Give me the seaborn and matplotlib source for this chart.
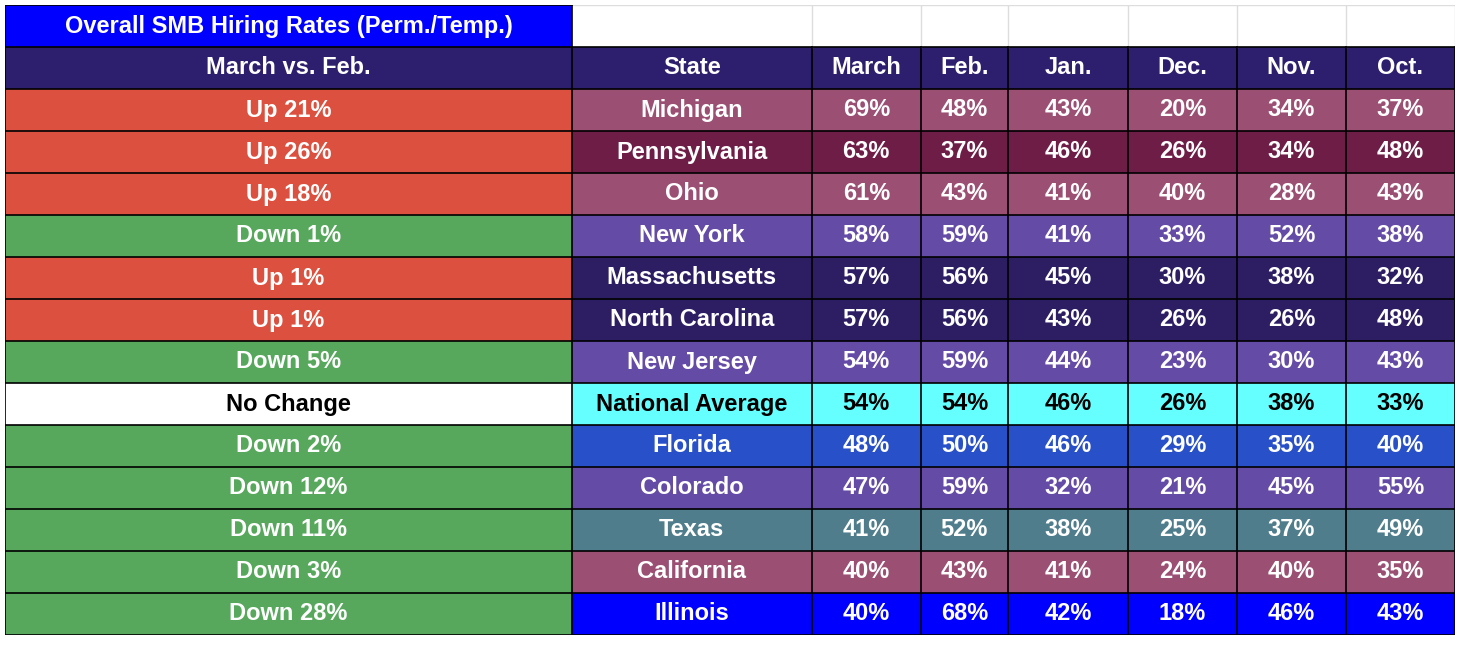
import numpy as np
import matplotlib
matplotlib.use("Agg")
import matplotlib.pyplot as plt
import seaborn as sns
from matplotlib.colors import ListedColormap

title = "Overall SMB Hiring Rates (Perm./Temp.)"
headers = ["March vs. Feb.", "State", "March", "Feb.", "Jan.", "Dec.", "Nov.", "Oct."]
changes = ["Up 21%", "Up 26%", "Up 18%", "Down 1%", "Up 1%", "Up 1%", "Down 5%", "No Change",
           "Down 2%", "Down 12%", "Down 11%", "Down 3%", "Down 28%"]
states = ["Michigan", "Pennsylvania", "Ohio", "New York", "Massachusetts", "North Carolina",
          "New Jersey", "National Average", "Florida", "Colorado", "Texas", "California", "Illinois"]
march = [69, 63, 61, 58, 57, 57, 54, 54, 48, 47, 41, 40, 40]
feb = [48, 37, 43, 59, 56, 56, 59, 54, 50, 59, 52, 43, 68]
jan = [43, 46, 41, 41, 45, 43, 44, 46, 46, 32, 38, 41, 42]
dec = [20, 26, 40, 33, 30, 26, 23, 26, 29, 21, 25, 24, 18]
nov = [34, 34, 28, 52, 38, 26, 30, 38, 35, 45, 37, 40, 46]
octo = [37, 48, 43, 38, 32, 48, 43, 33, 40, 55, 49, 35, 43]
row_colors = ["#9b5073", "#6e1e46", "#9b5073", "#644ba5", "#2d1e64", "#2d1e64", "#644ba5",
              "#66ffff", "#2850c8", "#644ba5", "#507d8c", "#9b5073", "#0000ff"]

months = [march, feb, jan, dec, nov, octo]
widths = [52, 22, 10, 8, 11, 10, 10, 10]

palette = ["#ffffff", "#0000ff", "#2e1f6e", "#dc5040", "#57a85d"]
for c in row_colors:
    if c not in palette:
        palette.append(c)
idx = {c: i for i, c in enumerate(palette)}

def change_color(s):
    if s.startswith("Up"):
        return "#dc5040"
    if s.startswith("Down"):
        return "#57a85d"
    return "#ffffff"

nrows = len(states) + 2
cell_rows = []
cell_rows.append([idx["#0000ff"]] + [idx["#ffffff"]] * (len(widths) - 1))
cell_rows.append([idx["#2e1f6e"]] * len(widths))
for i in range(len(states)):
    cell_rows.append([idx[change_color(changes[i])]] + [idx[row_colors[i]]] * (len(widths) - 1))
mat = np.array([np.repeat(r, widths) for r in cell_rows])

fig = plt.figure(figsize=(14.64, 6.5), dpi=100)
ax = fig.add_axes([5 / 1464, 15 / 650, 1450 / 1464, 630 / 650])
sns.heatmap(mat, cmap=ListedColormap(palette), vmin=-0.5, vmax=len(palette) - 0.5,
            cbar=False, ax=ax, xticklabels=False, yticklabels=False)
ax.set_xlim(0, sum(widths))
ax.set_ylim(nrows, 0)

edges = np.concatenate([[0], np.cumsum(widths)])
centers = (edges[:-1] + edges[1:]) / 2
fp = dict(family="Liberation Sans", weight="bold", fontsize=17, ha="center", va="center")

# spreadsheet gridlines in title row
for e in edges[2:]:
    ax.plot([e, e], [0, 1], color="#dddddd", lw=1)
ax.plot([edges[1], edges[-1]], [0, 0], color="#dddddd", lw=1)
ax.plot([0, edges[1]], [0, 0], color="black", lw=1.2)
ax.plot([0, 0], [0, 1], color="black", lw=1.2)
ax.plot([edges[1], edges[1]], [0, 1], color="black", lw=1.2)
for y in range(1, nrows + 1):
    ax.plot([0, edges[-1]], [y, y], color="black", lw=1.2)
for e in edges:
    ax.plot([e, e], [1, nrows], color="black", lw=1.2)

ax.text(centers[0], 0.5, title, color="white", **fp)
for j, h in enumerate(headers):
    ax.text(centers[j], 1.5, h, color="white", **fp)
for i in range(len(states)):
    y = i + 2.5
    c0 = "black" if changes[i] == "No Change" else "white"
    ax.text(centers[0], y, changes[i], color=c0, **fp)
    tc = "black" if row_colors[i] == "#66ffff" else "white"
    ax.text(centers[1], y, states[i], color=tc, **fp)
    for k, m in enumerate(months):
        ax.text(centers[2 + k], y, f"{m[i]}%", color=tc, **fp)
ax.axis("off")
fig.savefig("out.png", dpi=100)
